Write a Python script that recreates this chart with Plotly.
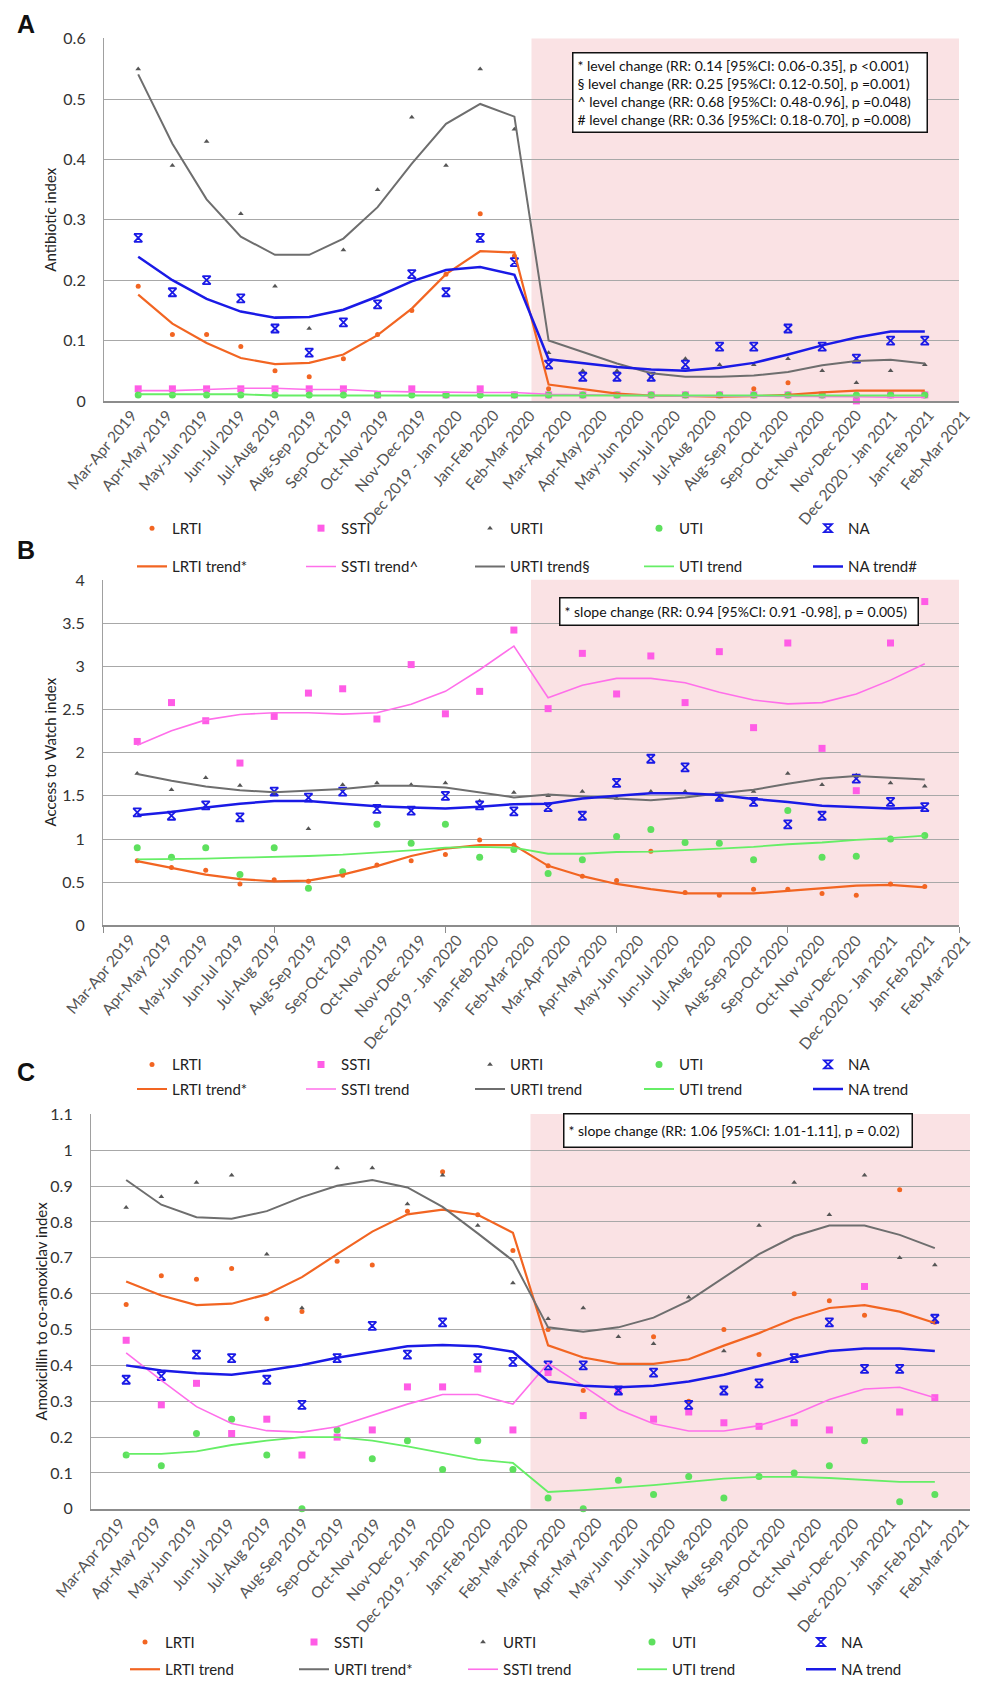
import plotly.graph_objects as go

# ---------------- data ----------------
categories = ["Mar-Apr 2019", "Apr-May 2019", "May-Jun 2019", "Jun-Jul 2019", "Jul-Aug 2019",
              "Aug-Sep 2019", "Sep-Oct 2019", "Oct-Nov 2019", "Nov-Dec 2019", "Dec 2019 - Jan 2020",
              "Jan-Feb 2020", "Feb-Mar 2020", "Mar-Apr 2020", "Apr-May 2020", "May-Jun 2020",
              "Jun-Jul 2020", "Jul-Aug 2020", "Aug-Sep 2020", "Sep-Oct 2020", "Oct-Nov 2020",
              "Nov-Dec 2020", "Dec 2020 - Jan 2021", "Jan-Feb 2021", "Feb-Mar 2021"]
period_index = list(range(24))

# Panel A - Antibiotic index
A_LRTI = [0.19, 0.11, 0.11, 0.09, 0.05, 0.04, 0.07, 0.11, 0.15, 0.21, 0.31, 0.24,
          0.02, 0.01, 0.01, 0.01, 0.01, 0.01, 0.02, 0.03, 0.01, 0.01, 0.01, 0.01]
A_LRTI_trend = [0.176, 0.128, 0.096, 0.071, 0.061, 0.063, 0.077, 0.109, 0.153, 0.21, 0.248, 0.246,
                0.027, 0.019, 0.012, 0.009, 0.008, 0.007, 0.008, 0.010, 0.014, 0.017, 0.017, 0.017]
A_SSTI = [0.02, 0.02, 0.02, 0.02, 0.02, 0.02, 0.02, 0.01, 0.02, 0.01, 0.02, 0.01,
          0.01, 0.01, 0.01, 0.01, 0.01, 0.01, 0.01, 0.01, 0.01, 0.00, 0.01, 0.01]
A_SSTI_trend = [0.017, 0.017, 0.019, 0.021, 0.021, 0.019, 0.019, 0.016, 0.015, 0.014, 0.014, 0.014,
                0.011, 0.010, 0.009, 0.009, 0.008, 0.008, 0.008, 0.007, 0.007, 0.007, 0.006, 0.006]
A_URTI = [0.55, 0.39, 0.43, 0.31, 0.19, 0.12, 0.25, 0.35, 0.47, 0.39, 0.55, 0.45,
          0.08, 0.05, 0.05, 0.04, 0.07, 0.06, 0.06, 0.07, 0.05, 0.03, 0.05, 0.06]
A_URTI_trend = [0.541, 0.426, 0.334, 0.272, 0.242, 0.242, 0.269, 0.321, 0.393, 0.459, 0.492, 0.471,
                0.100, 0.081, 0.062, 0.046, 0.040, 0.040, 0.042, 0.048, 0.059, 0.066, 0.068, 0.062]
A_UTI = [0.01, 0.01, 0.01, 0.01, 0.01, 0.01, 0.01, 0.01, 0.01, 0.01, 0.01, 0.01,
         0.01, 0.01, 0.01, 0.01, 0.01, 0.01, 0.01, 0.01, 0.01, 0.01, 0.01, 0.01]
A_UTI_trend = [0.011, 0.011, 0.011, 0.011, 0.009, 0.009, 0.010, 0.010, 0.010, 0.010, 0.010, 0.010,
               0.009, 0.009, 0.009, 0.009, 0.009, 0.009, 0.009, 0.009, 0.009, 0.009, 0.009, 0.009]
A_NA = [0.27, 0.18, 0.20, 0.17, 0.12, 0.08, 0.13, 0.16, 0.21, 0.18, 0.27, 0.23,
        0.06, 0.04, 0.04, 0.04, 0.06, 0.09, 0.09, 0.12, 0.09, 0.07, 0.10, 0.10]
A_NA_trend = [0.239, 0.200, 0.169, 0.148, 0.138, 0.139, 0.151, 0.173, 0.198, 0.217, 0.222, 0.209,
              0.069, 0.062, 0.056, 0.052, 0.050, 0.055, 0.063, 0.077, 0.092, 0.105, 0.115, 0.115]

# Panel B - Access to Watch index
B_LRTI = [0.75, 0.67, 0.64, 0.48, 0.53, 0.51, 0.58, 0.70, 0.75, 0.82, 0.99, 0.93,
          0.69, 0.57, 0.52, 0.86, 0.38, 0.35, 0.42, 0.42, 0.37, 0.35, 0.48, 0.45]
B_LRTI_trend = [0.745, 0.667, 0.588, 0.537, 0.510, 0.518, 0.588, 0.686, 0.804, 0.890, 0.930, 0.930,
                0.690, 0.570, 0.480, 0.420, 0.370, 0.370, 0.370, 0.400, 0.430, 0.460, 0.470, 0.440]
B_SSTI = [2.13, 2.58, 2.37, 1.88, 2.42, 2.69, 2.74, 2.39, 3.02, 2.45, 2.71, 3.42,
          2.51, 3.15, 2.68, 3.12, 2.58, 3.17, 2.29, 3.27, 2.05, 1.56, 3.27, 3.75]
B_SSTI_trend = [2.086, 2.255, 2.380, 2.443, 2.463, 2.463, 2.447, 2.463, 2.560, 2.710, 2.960, 3.235,
                2.637, 2.780, 2.860, 2.860, 2.810, 2.700, 2.610, 2.565, 2.580, 2.680, 2.840, 3.030]
B_URTI = [1.76, 1.57, 1.71, 1.62, 1.52, 1.12, 1.63, 1.65, 1.63, 1.65, 1.44, 1.54,
          1.50, 1.55, 1.47, 1.55, 1.55, 1.45, 1.55, 1.76, 1.63, 1.74, 1.65, 1.61]
B_URTI_trend = [1.753, 1.675, 1.608, 1.565, 1.541, 1.557, 1.580, 1.616, 1.616, 1.596, 1.541, 1.482,
                1.517, 1.490, 1.470, 1.450, 1.480, 1.530, 1.570, 1.640, 1.700, 1.730, 1.710, 1.690]
B_UTI = [0.90, 0.79, 0.90, 0.59, 0.90, 0.43, 0.62, 1.17, 0.95, 1.17, 0.79, 0.88,
         0.60, 0.76, 1.03, 1.11, 0.96, 0.95, 0.76, 1.33, 0.79, 0.80, 1.00, 1.04]
B_UTI_trend = [0.765, 0.765, 0.773, 0.784, 0.792, 0.804, 0.820, 0.843, 0.870, 0.900, 0.910, 0.900,
               0.830, 0.830, 0.850, 0.855, 0.870, 0.890, 0.910, 0.940, 0.960, 0.990, 1.010, 1.040]
B_NA = [1.31, 1.27, 1.39, 1.25, 1.55, 1.48, 1.55, 1.35, 1.33, 1.50, 1.39, 1.32,
        1.37, 1.27, 1.65, 1.93, 1.83, 1.49, 1.43, 1.17, 1.27, 1.70, 1.43, 1.37]
B_NA_trend = [1.275, 1.314, 1.365, 1.410, 1.440, 1.440, 1.410, 1.380, 1.365, 1.353, 1.373, 1.404,
              1.410, 1.470, 1.500, 1.530, 1.530, 1.510, 1.465, 1.430, 1.385, 1.365, 1.353, 1.365]

# Panel C - Amoxicillin to co-amoxiclav index
C_LRTI = [0.57, 0.65, 0.64, 0.67, 0.53, 0.55, 0.69, 0.68, 0.83, 0.94, 0.82, 0.72,
          0.50, 0.33, 0.33, 0.48, 0.30, 0.50, 0.43, 0.60, 0.58, 0.54, 0.89, 0.52]
C_LRTI_trend = [0.634, 0.595, 0.568, 0.572, 0.598, 0.646, 0.710, 0.773, 0.821, 0.834, 0.820, 0.770,
                0.456, 0.422, 0.404, 0.404, 0.417, 0.455, 0.490, 0.530, 0.560, 0.568, 0.550, 0.518]
C_SSTI = [0.47, 0.29, 0.35, 0.21, 0.25, 0.15, 0.20, 0.22, 0.34, 0.34, 0.39, 0.22,
          0.38, 0.26, 0.33, 0.25, 0.27, 0.24, 0.23, 0.24, 0.22, 0.62, 0.27, 0.31]
C_SSTI_trend = [0.435, 0.358, 0.285, 0.238, 0.218, 0.214, 0.229, 0.260, 0.292, 0.319, 0.319, 0.292,
                0.406, 0.343, 0.277, 0.237, 0.217, 0.217, 0.232, 0.263, 0.305, 0.334, 0.339, 0.310]
C_URTI = [0.84, 0.87, 0.91, 0.93, 0.71, 0.56, 0.95, 0.95, 0.85, 0.93, 0.79, 0.63,
          0.53, 0.56, 0.48, 0.46, 0.59, 0.44, 0.79, 0.91, 0.82, 0.93, 0.70, 0.68]
C_URTI_trend = [0.917, 0.848, 0.813, 0.809, 0.830, 0.869, 0.901, 0.917, 0.896, 0.842, 0.768, 0.692,
                0.506, 0.494, 0.506, 0.533, 0.580, 0.644, 0.710, 0.760, 0.790, 0.790, 0.764, 0.727]
C_UTI = [0.15, 0.12, 0.21, 0.25, 0.15, 0.00, 0.22, 0.14, 0.19, 0.11, 0.19, 0.11,
         0.03, 0.00, 0.08, 0.04, 0.09, 0.03, 0.09, 0.10, 0.12, 0.19, 0.02, 0.04]
C_UTI_trend = [0.153, 0.153, 0.160, 0.178, 0.190, 0.200, 0.200, 0.190, 0.174, 0.155, 0.137, 0.128,
               0.047, 0.052, 0.058, 0.066, 0.075, 0.084, 0.089, 0.089, 0.086, 0.081, 0.075, 0.075]
C_NA = [0.36, 0.37, 0.43, 0.42, 0.36, 0.29, 0.42, 0.51, 0.43, 0.52, 0.42, 0.41,
        0.40, 0.40, 0.33, 0.38, 0.29, 0.33, 0.35, 0.42, 0.52, 0.39, 0.39, 0.53]
C_NA_trend = [0.400, 0.386, 0.378, 0.374, 0.386, 0.401, 0.421, 0.438, 0.453, 0.457, 0.453, 0.438,
              0.355, 0.343, 0.339, 0.343, 0.355, 0.374, 0.397, 0.422, 0.440, 0.447, 0.447, 0.440]

A_stats = ["* level change (RR: 0.14 [95%CI: 0.06-0.35], p <0.001)",
           "§ level change (RR: 0.25 [95%CI: 0.12-0.50], p =0.001)",
           "^ level change (RR: 0.68 [95%CI: 0.48-0.96], p =0.048)",
           "# level change (RR: 0.36 [95%CI: 0.18-0.70], p =0.008)"]
B_stats = ["* slope change (RR: 0.94 [95%CI: 0.91 -0.98], p = 0.005)"]
C_stats = ["* slope change (RR: 1.06 [95%CI: 1.01-1.11], p = 0.02)"]

# ---------------- styling ----------------
W, H = 981, 1686
FONT = "Lato, 'Open Sans', sans-serif"
ORANGE = "#F26522"
PINK = "#FF5CE6"
PINK_LINE = "#FF6FEA"
GRAY_PT = "#555555"
GRAY_LINE = "#6E6E6E"
GREEN = "#5EE05E"
GREEN_LINE = "#66EE66"
BLUE = "#1A1AE6"
SHADE = "#FAE2E4"
GRID = "#A8A8A8"

def fx(p):
    return p / W

def fy(p):
    return 1 - p / H

panels = [
    dict(key="A", ax="", xpx=(104, 959), ypx=(29, 398), yr=0.6, dtick=0.1,
         ytitle="Antibiotic index", ytx=50, legends=("legend", "legend2"), lstep=1.06,
         series=[A_LRTI, A_SSTI, A_URTI, A_UTI, A_NA],
         trends=[A_LRTI_trend, A_SSTI_trend, A_URTI_trend, A_UTI_trend, A_NA_trend],
         tnames=["LRTI trend*", "SSTI trend^", "URTI trend§", "UTI trend", "NA trend#"],
         torder=[0, 1, 2, 3, 4],
         stats=A_stats, box=(572, 43, 928, 124), xticks=False),
    dict(key="B", ax="2", xpx=(103, 959), ypx=(580, 932), yr=4.0, dtick=0.5,
         ytitle="Access to Watch index", ytx=50, legends=("legend3", "legend4"), lstep=1.06,
         series=[B_LRTI, B_SSTI, B_URTI, B_UTI, B_NA],
         trends=[B_LRTI_trend, B_SSTI_trend, B_URTI_trend, B_UTI_trend, B_NA_trend],
         tnames=["LRTI trend*", "SSTI trend", "URTI trend", "UTI trend", "NA trend"],
         torder=[0, 1, 2, 3, 4],
         stats=B_stats, box=(559, 598, 919, 627), xticks=True),
    dict(key="C", ax="3", xpx=(91, 970), ypx=(1124, 1526), yr=1.1, dtick=0.1,
         ytitle="Amoxicillin to co-amoxiclav index", ytx=41, legends=("legend5", "legend6"), lstep=1.045,
         series=[C_LRTI, C_SSTI, C_URTI, C_UTI, C_NA],
         trends=[C_LRTI_trend, C_SSTI_trend, C_URTI_trend, C_UTI_trend, C_NA_trend],
         tnames=["LRTI trend", "SSTI trend", "URTI trend*", "UTI trend", "NA trend"],
         torder=[0, 2, 1, 3, 4],
         stats=C_stats, box=(563, 1123, 913, 1158), xticks=False),
]

names = ["LRTI", "SSTI", "URTI", "UTI", "NA"]
mstyles = [dict(symbol="circle", size=5, color=ORANGE),
           dict(symbol="square", size=7, color=PINK),
           dict(symbol="triangle-up", size=5, color=GRAY_PT),
           dict(symbol="circle", size=7, color=GREEN),
           dict(symbol="hourglass-open", size=8, color=BLUE, line=dict(width=1.8, color=BLUE))]
lstyles = [dict(color=ORANGE, width=2.2),
           dict(color=PINK_LINE, width=1.6),
           dict(color=GRAY_LINE, width=2.0),
           dict(color=GREEN_LINE, width=1.8),
           dict(color=BLUE, width=2.5)]

fig = go.Figure()
annotations = []
shapes = []
layout = {}

for p in panels:
    ax = p["ax"]
    xa, ya = "x" + ax, "y" + ax
    for i in range(5):
        fig.add_trace(go.Scatter(x=period_index, y=p["series"][i], mode="markers",
                                 name=names[i], marker=mstyles[i], xaxis=xa, yaxis=ya,
                                 legend=p["legends"][0], cliponaxis=False))
    for i in p["torder"]:
        fig.add_trace(go.Scatter(x=period_index, y=p["trends"][i], mode="lines",
                                 name=p["tnames"][i], line=lstyles[i], xaxis=xa, yaxis=ya,
                                 legend=p["legends"][1]))
    x0, x1 = p["xpx"]
    y0, y1 = p["ypx"]
    layout["xaxis" + ax] = dict(domain=[fx(x0), fx(x1)], range=[-1, 24], anchor=ya,
                                showgrid=False, zeroline=False, showline=True,
                                linecolor="#8C8C8C", linewidth=1.5, showticklabels=False,
                                ticks="outside" if p["xticks"] else "",
                                tickvals=[-1, 4, 9, 14, 19, 24], ticklen=6, tickcolor="#8C8C8C")
    layout["yaxis" + ax] = dict(domain=[fy(y1), fy(y0)], range=[0, p["yr"] * 1.0008], anchor=xa,
                                dtick=p["dtick"], tick0=0, showgrid=True, gridcolor=GRID, gridwidth=1,
                                zeroline=False, showline=True, linecolor="#A0A0A0", linewidth=1.2,
                                ticks="", ticklabelstandoff=14,
                                tickfont=dict(family=FONT, size=16, color="#333333"))
    shapes.append(dict(type="rect", xref=xa, yref=ya + " domain", x0=11.5, x1=24, y0=0, y1=1,
                       fillcolor=SHADE, line=dict(width=0), layer="below"))
    unit = (x1 - x0) / 25.0
    for k, lab in enumerate(categories):
        xpos = min(x0 + (k * p["lstep"] + 1) * unit, 972)
        annotations.append(dict(x=fx(xpos), y=fy(y1), xref="paper", yref="paper",
                                text=lab, showarrow=False, textangle=-50,
                                xanchor="right", yanchor="top", xshift=4, yshift=-3,
                                font=dict(family=FONT, size=15.5, color="#555555")))
    annotations.append(dict(x=fx(p["ytx"]), y=(fy(y0) + fy(y1)) / 2, xref="paper", yref="paper",
                            text=p["ytitle"], textangle=-90, showarrow=False,
                            xanchor="center", yanchor="middle",
                            font=dict(family=FONT, size=15, color="#222222")))
    bx0, by0, bx1, by1 = p["box"]
    annotations.append(dict(x=fx(bx0), y=fy(by0), xref="paper", yref="paper",
                            xanchor="left", yanchor="top", showarrow=False, align="left",
                            text="<br>".join(p["stats"]), bgcolor="white",
                            bordercolor="#111111", borderwidth=1.5, borderpad=4,
                            width=bx1 - bx0 - 11, height=by1 - by0 - 11,
                            font=dict(family=FONT, size=14, color="#111111")))

for letter, ypx in [("A", 14), ("B", 550), ("C", 1081)]:
    annotations.append(dict(x=fx(26), y=fy(ypx), xref="paper", yref="paper", text="<b>%s</b>" % letter,
                            showarrow=False, xanchor="center", yanchor="middle",
                            font=dict(family="Liberation Sans, Arial, sans-serif", size=25, color="#111111")))

leg_common = dict(orientation="h", xanchor="left", yanchor="top", entrywidth=124,
                  entrywidthmode="pixels", bgcolor="rgba(0,0,0,0)", itemwidth=30,
                  font=dict(family=FONT, size=15, color="#222222"), traceorder="normal")
leg_pos = {"legend": (132, 511), "legend2": (132, 550),
           "legend3": (132, 1057), "legend4": (132, 1082),
           "legend5": (125, 1645), "legend6": (125, 1673)}
for name, (lx, ly) in leg_pos.items():
    layout[name] = dict(leg_common, x=fx(lx), y=fy(ly))

fig.update_layout(width=W, height=H, margin=dict(l=0, r=0, t=0, b=0),
                  paper_bgcolor="white", plot_bgcolor="white", showlegend=True,
                  annotations=annotations, shapes=shapes, font=dict(family=FONT), **layout)
fig.write_html("out.html")
